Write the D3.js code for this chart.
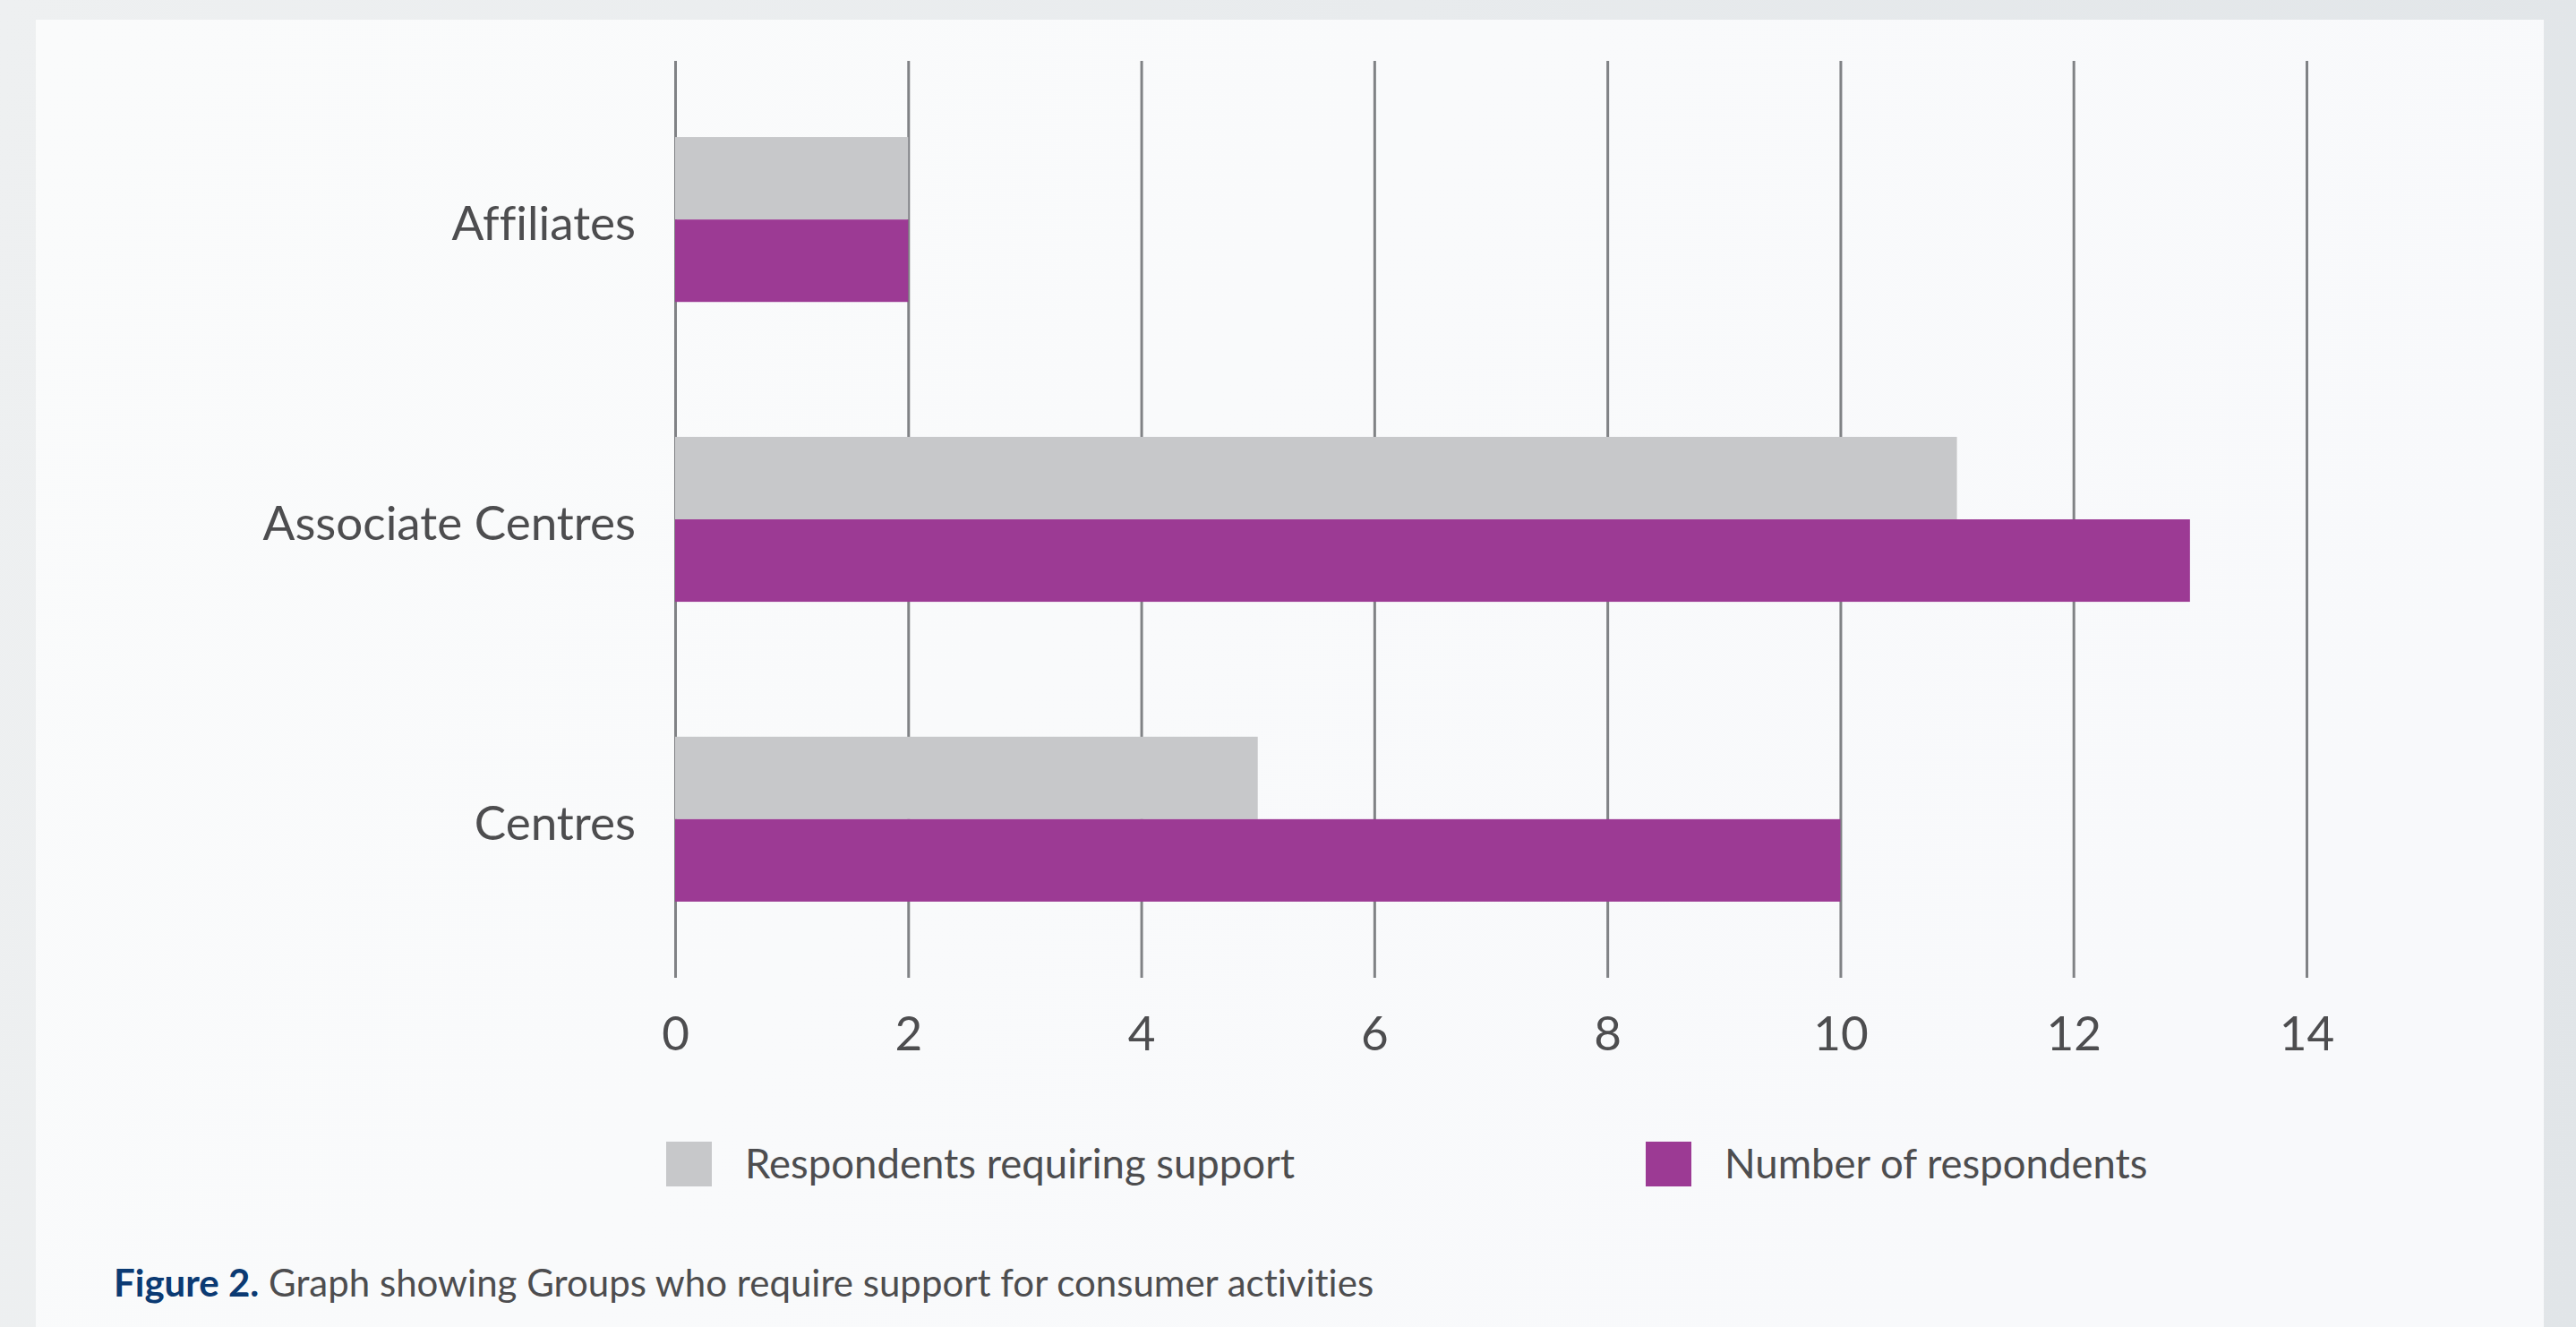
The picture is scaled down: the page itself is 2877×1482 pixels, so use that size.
<!DOCTYPE html>
<html lang="en">
<head>
<meta charset="utf-8">
<script src="https://d3js.org/d3.v7.min.js"></script>
<title>Groups requiring support</title>
<style>
  body {
    margin: 0;
    background: linear-gradient(100deg, #eef0f1 0%, #e8ebed 50%, #e1e5e8 100%);
    overflow: hidden;
  }
  svg { display: block; }
  text { font-family: Lato, "Open Sans", sans-serif; fill: #4d4d4f; font-variant-ligatures: none; }
</style>
</head>
<body>
<svg id="main" width="2877" height="1482"></svg>
<script>
  // data
  const groups = ['Affiliates', 'Associate Centres', 'Centres'];
  const seriesNames = ['Respondents requiring support', 'Number of respondents'];
  const requiringSupport = [2, 11, 5];
  const numberOfRespondents = [2, 13, 10];
  const xTicks = [0, 2, 4, 6, 8, 10, 12, 14];
  const colors = ['#c7c8ca', '#9c3a94'];

  const rows = groups.map((g, i) => ({group: g, values: [requiringSupport[i], numberOfRespondents[i]]}));

  let svg = d3.select('svg#main');

  // panel
  let grad = svg.append('defs').append('linearGradient')
      .attr('id', 'panelGrad').attr('x1', '0').attr('y1', '0').attr('x2', '1').attr('y2', '0.4');
  grad.append('stop').attr('offset', '0').attr('stop-color', '#fafbfb');
  grad.append('stop').attr('offset', '1').attr('stop-color', '#f8f9fb');
  svg.append('rect')
      .attr('x', 40).attr('y', 22)
      .attr('width', 2801).attr('height', 1500)
      .attr('fill', 'url(#panelGrad)');

  let plotLeft = 754, plotRight = 2576, plotTop = 68, plotBottom = 1092;

  let x = d3.scaleLinear().domain([0, 14]).range([plotLeft, plotRight]);
  let y = d3.scaleBand().domain(groups).range([plotTop, plotBottom])
      .paddingInner(0.45).paddingOuter(0.254);
  let ySub = d3.scaleBand().domain([0, 1]).range([0, y.bandwidth()]);

  // grid + tick labels
  let gx = svg.append('g')
      .attr('transform', 'translate(0,' + plotBottom + ')')
      .call(d3.axisBottom(x).tickValues(xTicks).tickSize(-(plotBottom - plotTop)).tickPadding(43));
  gx.select('.domain').remove();
  gx.selectAll('.tick line').attr('stroke', '#808285').attr('stroke-width', 3);
  gx.selectAll('.tick text')
      .attr('font-family', 'Lato, sans-serif')
      .attr('font-size', 53)
      .attr('fill', '#4d4d4f');

  // bars
  let grp = svg.selectAll('.grp').data(rows).enter().append('g')
      .attr('class', 'grp')
      .attr('transform', d => 'translate(0,' + y(d.group) + ')');

  grp.selectAll('rect').data(d => d.values).enter().append('rect')
      .attr('x', x(0))
      .attr('y', (d, i) => ySub(i))
      .attr('width', d => x(d) - x(0))
      .attr('height', ySub.bandwidth())
      .attr('fill', (d, i) => colors[i]);

  // category labels
  svg.selectAll('.cat').data(groups).enter().append('text')
      .attr('class', 'cat')
      .attr('x', plotLeft - 44)
      .attr('y', d => y(d) + y.bandwidth() / 2)
      .attr('dy', '0.44em')
      .attr('text-anchor', 'end')
      .attr('font-size', 53)
      .text(d => d);

  // legend
  let legendX = [744, 1838];
  let legend = svg.selectAll('.legend').data(seriesNames).enter().append('g')
      .attr('class', 'legend')
      .attr('transform', (d, i) => 'translate(' + legendX[i] + ',1275)');
  legend.append('rect')
      .attr('width', 51).attr('height', 50)
      .attr('fill', (d, i) => colors[i]);
  legend.append('text')
      .attr('x', 88)
      .attr('y', 41)
      .attr('font-size', 45.5)
      .text(d => d);

  // caption
  let cap = svg.append('text')
      .attr('x', 127).attr('y', 1448)
      .attr('font-size', 42);
  cap.append('tspan').attr('font-weight', 'bold').style('fill', '#0b3a73').text('Figure 2.');
  cap.append('tspan').text(' Graph showing Groups who require support for consumer activities');
</script>
</body>
</html>
